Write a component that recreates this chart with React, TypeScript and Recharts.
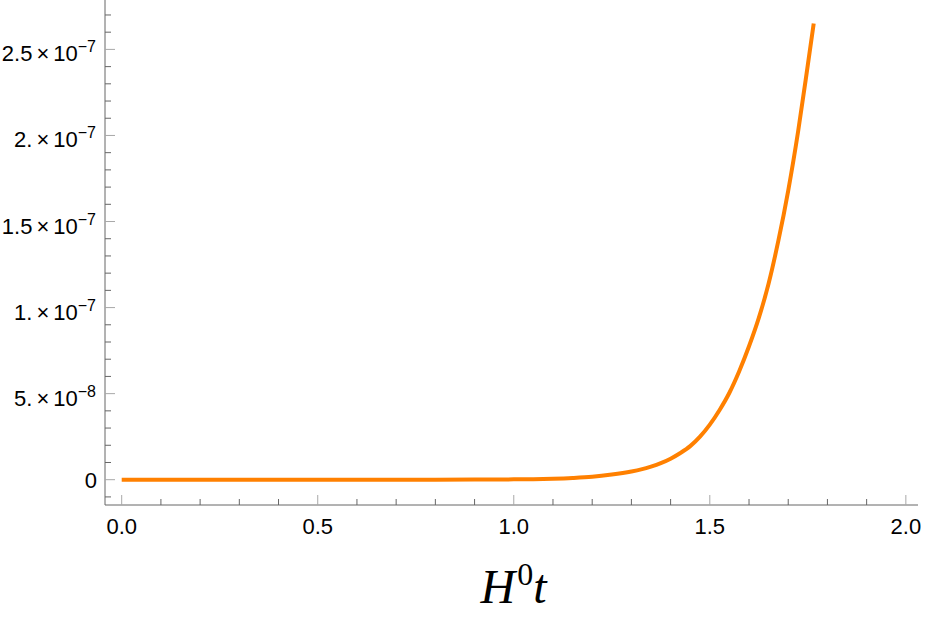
import { LineChart, Line, XAxis, YAxis, Label } from 'recharts';

// H^0 t versus the quantity
const tValues = [
  0, 0.2, 0.4, 0.6, 0.8, 0.9, 1.0, 1.05, 1.1, 1.15, 1.2, 1.25, 1.3, 1.325, 1.35, 1.375, 1.4, 1.425, 1.45,
  1.475, 1.5, 1.525, 1.55, 1.575, 1.6, 1.625, 1.65, 1.675, 1.7, 1.725, 1.75, 1.765,
];
const growth = [
  0, 0, 0, 0, 0.002e-8, 0.007e-8, 0.02e-8, 0.032e-8, 0.057e-8, 0.1e-8, 0.17e-8, 0.3e-8, 0.48e-8, 0.6e-8,
  0.76e-8, 0.96e-8, 1.22e-8, 1.55e-8, 1.95e-8, 2.5e-8, 3.2e-8, 4.05e-8, 5.05e-8, 6.3e-8, 7.75e-8, 9.4e-8,
  11.4e-8, 13.9e-8, 16.8e-8, 20.2e-8, 24.1e-8, 26.5e-8,
];

const xTicks = [0, 0.1, 0.2, 0.3, 0.4, 0.5, 0.6, 0.7, 0.8, 0.9, 1.0, 1.1, 1.2, 1.3, 1.4, 1.5, 1.6, 1.7, 1.8, 1.9, 2.0];
const xMajorTicks = [0, 0.5, 1.0, 1.5, 2.0];
const xMajorLabels = ['0.0', '0.5', '1.0', '1.5', '2.0'];

const yTicks = [
  -1e-8, 0, 1e-8, 2e-8, 3e-8, 4e-8, 5e-8, 6e-8, 7e-8, 8e-8, 9e-8, 10e-8, 11e-8, 12e-8, 13e-8, 14e-8, 15e-8,
  16e-8, 17e-8, 18e-8, 19e-8, 20e-8, 21e-8, 22e-8, 23e-8, 24e-8, 25e-8, 26e-8, 27e-8,
];
const yMajorTicks = [0, 5e-8, 1e-7, 1.5e-7, 2e-7, 2.5e-7];
const yMantissas = ['0', '5.', '1.', '1.5', '2.', '2.5'];
const yExponents = ['', '\u22128', '\u22127', '\u22127', '\u22127', '\u22127'];

const data = tValues.map((t, i) => ({ t, v: growth[i] }));

const SANS = "'Liberation Sans', Arial, sans-serif";
const SERIF = "'Liberation Serif', 'Times New Roman', serif";
const AXIS = '#666666';
const MAJOR = '#a8a8a8';

const majorIndex = (list: number[], value: number, eps: number) =>
  list.findIndex((m) => Math.abs(m - value) < eps);

function XTick(props: any) {
  const { x, y, payload } = props;
  const idx = majorIndex(xMajorTicks, payload.value, 1e-6);
  const major = idx >= 0;
  return (
    <g>
      <line x1={x} x2={x} y1={y} y2={y - (major ? 10 : 6)} stroke={major ? MAJOR : AXIS} strokeWidth={1} />
      {major && (
        <text x={x} y={y + 29} textAnchor="middle" fontFamily={SANS} fontSize={22} fill="#000">
          {xMajorLabels[idx]}
        </text>
      )}
    </g>
  );
}

function YTick(props: any) {
  const { x, y, payload } = props;
  const idx = majorIndex(yMajorTicks, payload.value, 1e-12);
  const major = idx >= 0;
  const exp = major ? yExponents[idx] : '';
  return (
    <g>
      <line x1={x} x2={x + (major ? 10 : 6)} y1={y} y2={y} stroke={major ? MAJOR : AXIS} strokeWidth={1} />
      {major && exp === '' && (
        <text x={x - 8} y={y + 8} textAnchor="end" fontFamily={SANS} fontSize={22} fill="#000">
          {yMantissas[idx]}
        </text>
      )}
      {major && exp !== '' && (
        <text x={x - 9} y={y + 12} textAnchor="end" fontFamily={SANS} fontSize={22} fill="#000">
          <tspan>{yMantissas[idx]}</tspan>
          <tspan dx={4}>{'\u00d7'}</tspan>
          <tspan dx={4}>10</tspan>
          <tspan fontSize={16} dy={-9}>{exp}</tspan>
        </text>
      )}
    </g>
  );
}

function AxisTitle(props: any) {
  const vb = props.viewBox || { x: 105, y: 505, width: 813, height: 122 };
  const cx = vb.x + vb.width / 2 + 2;
  const base = vb.y + 98;
  return (
    <text x={cx} y={base} textAnchor="middle" fontFamily={SERIF} fill="#000">
      <tspan fontStyle="italic" fontSize={48}>H</tspan>
      <tspan fontSize={32} dx={2} dy={-18}>0</tspan>
      <tspan fontStyle="italic" fontSize={48} dy={18}>t</tspan>
    </text>
  );
}

export default function App() {
  return (
    <div style={{ position: 'absolute', left: 0, top: 0, background: '#fff' }}>
      <LineChart width={926} height={627} data={data} margin={{ top: 0, right: 8, bottom: 0, left: 0 }}>
        <XAxis
          dataKey="t"
          type="number"
          domain={[-0.0426, 2.031]}
          allowDataOverflow
          ticks={xTicks}
          interval={0}
          tickLine={false}
          tickSize={0}
          tickMargin={0}
          tick={<XTick />}
          axisLine={{ stroke: AXIS, strokeWidth: 1 }}
          height={122}
        >
          <Label content={<AxisTitle />} />
        </XAxis>
        <YAxis
          type="number"
          domain={[-1.47e-8, 2.787e-7]}
          allowDataOverflow
          ticks={yTicks}
          interval={0}
          tickLine={false}
          tickSize={0}
          tickMargin={0}
          tick={<YTick />}
          axisLine={{ stroke: AXIS, strokeWidth: 1 }}
          width={105}
        />
        <Line
          type="monotone"
          dataKey="v"
          stroke="#ff8000"
          strokeWidth={4}
          dot={false}
          isAnimationActive={false}
        />
      </LineChart>
    </div>
  );
}
